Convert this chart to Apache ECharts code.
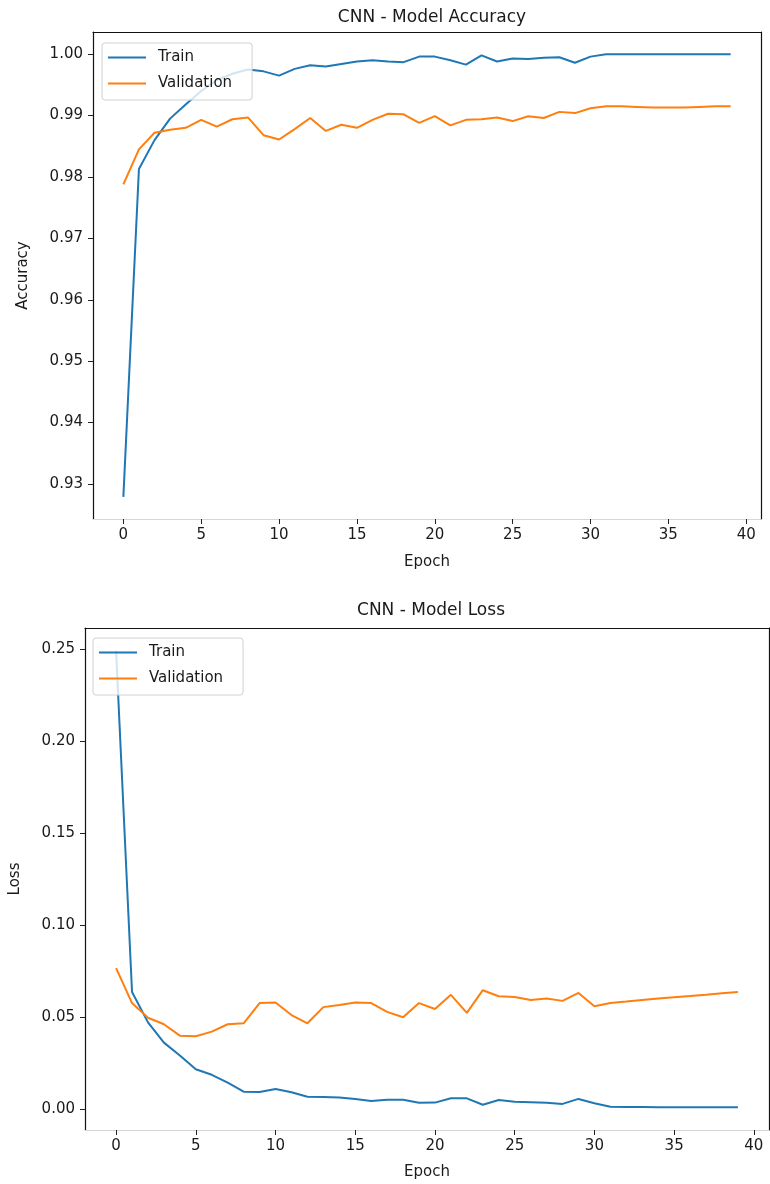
<!DOCTYPE html>
<html>
<head>
<meta charset="utf-8">
<script src="https://cdn.jsdelivr.net/npm/echarts@6/dist/echarts.min.js"></script>
<style>
html,body{margin:0;padding:0;background:#fff;}
#chart{width:770px;height:1184px;}
</style>
</head>
<body>
<div id="chart"></div>
<script>
// ---- data ----
const epochs = Array.from({length: 40}, (_, i) => i);
const trainAcc = [0.9279, 0.9813, 0.9860, 0.9895, 0.9918, 0.9940, 0.9958, 0.9968, 0.9975, 0.9972,
                  0.9965, 0.9976, 0.9982, 0.9980, 0.9984, 0.9988, 0.9990, 0.9988, 0.9987, 0.9996,
                  0.9996, 0.9990, 0.9983, 0.9998, 0.9988, 0.9993, 0.9992, 0.9994, 0.9995, 0.9986,
                  0.9996, 1.0000, 1.0000, 1.0000, 1.0000, 1.0000, 1.0000, 1.0000, 1.0000, 1.0000];
const valAcc = [0.9788, 0.9845, 0.9872, 0.9877, 0.9880, 0.9893, 0.9882, 0.9894, 0.9897, 0.9868,
                0.9861, 0.9878, 0.9896, 0.9875, 0.9885, 0.9880, 0.9893, 0.9903, 0.9902, 0.9888,
                0.9899, 0.9884, 0.9893, 0.9894, 0.9897, 0.9891, 0.9899, 0.9896, 0.9906, 0.9904,
                0.9912, 0.9915, 0.9915, 0.9914, 0.9913, 0.9913, 0.9913, 0.9914, 0.9915, 0.9915];
const trainLoss = [0.2490, 0.0635, 0.0470, 0.0360, 0.0290, 0.0215, 0.0185, 0.0142, 0.0093, 0.0092,
                   0.0108, 0.0090, 0.0066, 0.0065, 0.0062, 0.0053, 0.0043, 0.0050, 0.0049, 0.0033,
                   0.0034, 0.0058, 0.0057, 0.0022, 0.0048, 0.0038, 0.0036, 0.0033, 0.0027, 0.0054,
                   0.0030, 0.0011, 0.0010, 0.0010, 0.0009, 0.0009, 0.0009, 0.0009, 0.0009, 0.0009];
const valLoss = [0.0765, 0.0575, 0.0495, 0.0460, 0.0398, 0.0395, 0.0420, 0.0460, 0.0465, 0.0575,
                 0.0578, 0.0510, 0.0465, 0.0553, 0.0565, 0.0578, 0.0575, 0.0527, 0.0498, 0.0575,
                 0.0543, 0.0620, 0.0522, 0.0645, 0.0612, 0.0608, 0.0592, 0.0600, 0.0587, 0.0630,
                 0.0558, 0.0575, 0.0583, 0.0592, 0.0600, 0.0607, 0.0613, 0.0620, 0.0628, 0.0635];
const xTicks = [0, 5, 10, 15, 20, 25, 30, 35, 40];
const accTicks = [0.93, 0.94, 0.95, 0.96, 0.97, 0.98, 0.99, 1.00];
const lossTicks = [0.00, 0.05, 0.10, 0.15, 0.20, 0.25];
const seriesNames = ['Train', 'Validation'];
const titles = ['CNN - Model Accuracy', 'CNN - Model Loss'];

// ---- styling ----
const FONT = 'DejaVu Sans';
const TXT = '#1a1a1a';
const BLUE = '#1f77b4';
const ORANGE = '#ff7f0e';

function pairs(ys) { return epochs.map((e, i) => [e, ys[i]]); }

function bottomX(gridIndex, nameGap) {
  return {
    type: 'value', gridIndex, position: 'bottom', min: -1.95, max: 40.95,
    name: 'Epoch', nameLocation: 'middle', nameGap,
    nameTextStyle: { fontFamily: FONT, fontSize: 15, color: TXT },
    axisLine: { show: true, onZero: false, lineStyle: { color: '#d6d6d6', width: 1 } },
    axisTick: { show: true, customValues: xTicks, length: 5, lineStyle: { color: '#222', width: 1 } },
    axisLabel: { show: true, customValues: xTicks, margin: 9, fontFamily: FONT, fontSize: 15, color: TXT,
                 formatter: v => String(Math.round(v)) },
    splitLine: { show: false }
  };
}
function topX(gridIndex) {
  return {
    type: 'value', gridIndex, position: 'top', min: -1.95, max: 40.95,
    axisLine: { show: true, onZero: false, lineStyle: { color: '#111', width: 1.2 } },
    axisTick: { show: false }, axisLabel: { show: false }, splitLine: { show: false }
  };
}
function leftY(gridIndex, min, max, ticks, name, nameGap) {
  return {
    type: 'value', gridIndex, position: 'left', min, max,
    name, nameLocation: 'middle', nameGap,
    nameTextStyle: { fontFamily: FONT, fontSize: 15, color: TXT },
    axisLine: { show: true, onZero: false, lineStyle: { color: '#111', width: 1.2 } },
    axisTick: { show: true, customValues: ticks, length: 5, lineStyle: { color: '#222', width: 1 } },
    axisLabel: { show: true, customValues: ticks, margin: 10, fontFamily: FONT, fontSize: 15, color: TXT,
                 formatter: v => v.toFixed(2) },
    splitLine: { show: false }
  };
}
function rightY(gridIndex, min, max) {
  return {
    type: 'value', gridIndex, position: 'right', min, max,
    axisLine: { show: true, onZero: false, lineStyle: { color: '#111', width: 1.2 } },
    axisTick: { show: false }, axisLabel: { show: false }, splitLine: { show: false }
  };
}
function legend(left, top) {
  return {
    data: seriesNames, left, top, orient: 'vertical',
    itemWidth: 38, itemHeight: 14, itemGap: 11,
    padding: [7, 20, 9, 5],
    backgroundColor: 'rgba(255,255,255,0.8)', borderColor: '#d0d0d0', borderWidth: 1, borderRadius: 3,
    itemStyle: { opacity: 0 },
    lineStyle: { width: 2 },
    textStyle: { fontFamily: FONT, fontSize: 15, color: TXT, padding: [0, 0, 0, 7] },
    selectedMode: false
  };
}
function line(name, color, data, xi, yi) {
  return {
    name, type: 'line', data: pairs(data), xAxisIndex: xi, yAxisIndex: yi,
    symbol: 'none', showSymbol: false, smooth: false,
    lineStyle: { color, width: 2 }, itemStyle: { color }
  };
}

const option = {
  animation: false,
  backgroundColor: '#ffffff',
  title: [
    { text: titles[0], left: 427, top: 4, textAlign: 'center',
      textStyle: { fontFamily: FONT, fontSize: 17, fontWeight: 'normal', color: TXT } },
    { text: titles[1], left: 426, top: 597, textAlign: 'center',
      textStyle: { fontFamily: FONT, fontSize: 17, fontWeight: 'normal', color: TXT } }
  ],
  grid: [
    { left: 93, top: 32, width: 668, height: 487, show: false },
    { left: 83, top: 628, width: 686, height: 502, show: false }
  ],
  legend: [ legend(102, 43), legend(93, 638) ],
  xAxis: [ bottomX(0, 36), topX(0), bottomX(1, 35), topX(1) ],
  yAxis: [
    leftY(0, 0.92429, 1.00361, accTicks, 'Accuracy', 62), rightY(0, 0.92429, 1.00361),
    leftY(1, -0.0115, 0.2614, lossTicks, 'Loss', 62), rightY(1, -0.0115, 0.2614)
  ],
  series: [
    line(seriesNames[0], BLUE, trainAcc, 0, 0),
    line(seriesNames[1], ORANGE, valAcc, 0, 0),
    line(seriesNames[0], BLUE, trainLoss, 2, 2),
    line(seriesNames[1], ORANGE, valLoss, 2, 2)
  ]
};

const chart = echarts.init(document.getElementById('chart'), null, { renderer: 'canvas' });
chart.setOption(option);
</script>
</body>
</html>
